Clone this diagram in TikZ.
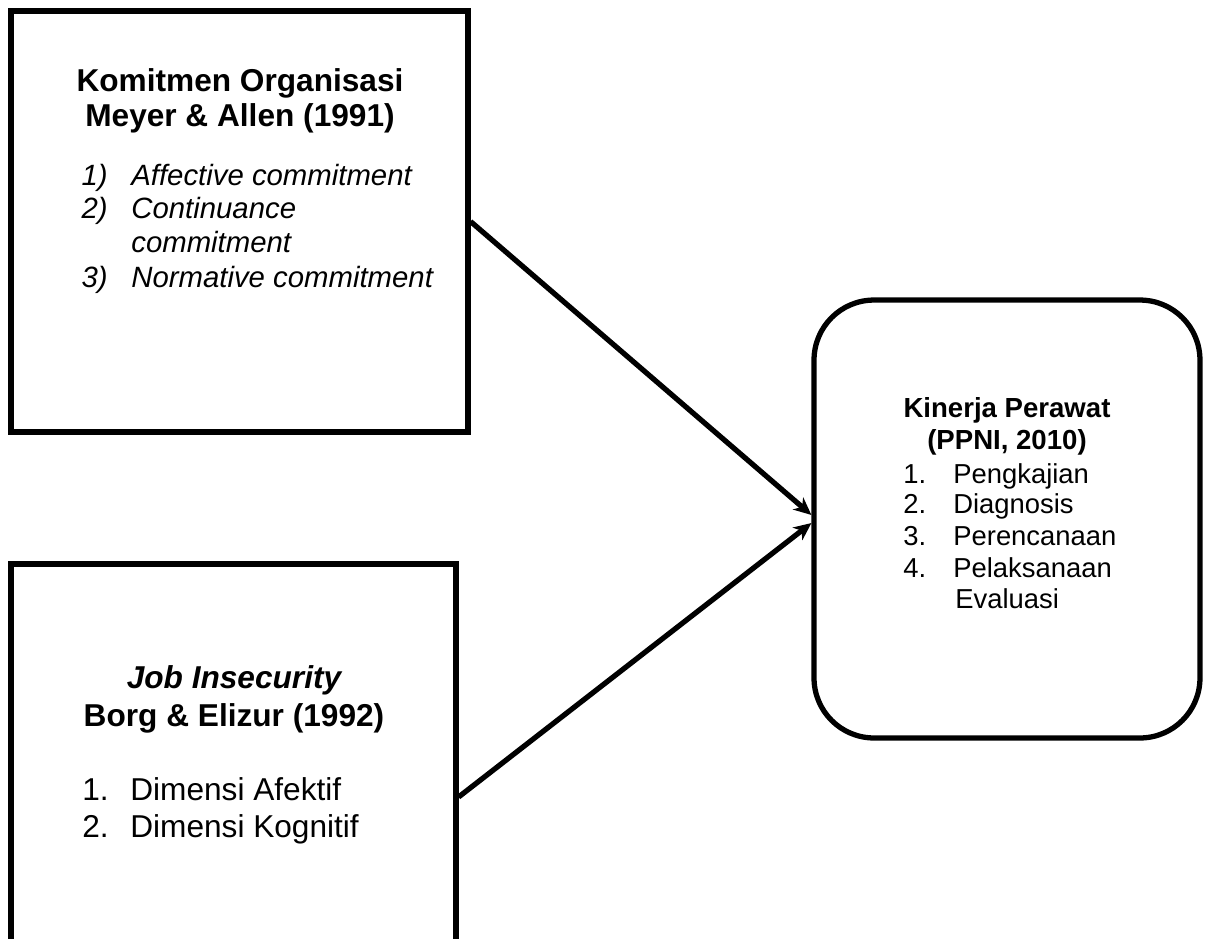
\documentclass[tikz,border=0pt]{standalone}
\usepackage{fontspec}
\setmainfont{Liberation Sans}
\usetikzlibrary{arrows.meta,calc}

\begin{document}
\begin{tikzpicture}[x=0.02cm,y=-0.02cm,
box/.style={draw,line width=3pt,inner sep=0pt},
txt/.style={inner sep=0pt,anchor=base},
num/.style={inner sep=0pt,anchor=base east},
item/.style={inner sep=0pt,anchor=base west},
arrow/.style={line width=3pt,-{Stealth[length=10pt,width=9pt,inset=3pt]}}]
\useasboundingbox (0,0) rectangle (1205,938);
\node (komitmen) at (239.5,221.5)[box,minimum width=9.14cm,minimum height=8.42cm] {};
\node (job) at (233.5,797)[box,minimum width=8.9cm,minimum height=9.32cm] {};
\node (kinerja) at (1007,519)[box,rounded corners=1.2cm,minimum width=7.72cm,minimum height=8.76cm] {};
\node (komitmentitle) at (240,91)[txt,font=\fontsize{18}{20}\selectfont\bfseries] {Komitmen Organisasi};
\node (komitmenref) at (240,126)[txt,font=\fontsize{18}{20}\selectfont\bfseries] {Meyer \& Allen (1991)};
\foreach \n/\y/\s in {1)/185/Affective commitment,2)/218/Continuance,/252/commitment,3)/287/Normative commitment}{
\node (kn\y) at (108,\y)[num,font=\fontsize{16.7}{19}\selectfont\itshape] {\n};
\node (ki\y) at (131,\y)[item,font=\fontsize{16.7}{19}\selectfont\itshape] {\s};
}
\node (jobtitle) at (234,688)[txt,font=\fontsize{18}{20}\selectfont\bfseries\itshape] {Job Insecurity};
\node (jobref) at (234,726)[txt,font=\fontsize{18}{20}\selectfont\bfseries] {Borg \& Elizur (1992)};
\foreach \n/\y/\s in {1./800/Dimensi Afektif,2./837/Dimensi Kognitif}{
\node (jn\y) at (82,\y)[item,font=\fontsize{18}{20}\selectfont] {\n};
\node (ji\y) at (130,\y)[item,font=\fontsize{18}{20}\selectfont] {\s};
}
\node (kinerjatitle) at (1007,417)[txt,font=\fontsize{15.7}{18}\selectfont\bfseries] {Kinerja Perawat};
\node (kinerjaref) at (1007,449)[txt,font=\fontsize{15.7}{18}\selectfont\bfseries] {(PPNI, 2010)};
\foreach \n/\y/\s in {1./483/Pengkajian,2./513/Diagnosis,3./545/Perencanaan,4./577/Pelaksanaan}{
\node (pn\y) at (903,\y)[item,font=\fontsize{15.6}{18}\selectfont] {\n};
\node (pi\y) at (953,\y)[item,font=\fontsize{15.6}{18}\selectfont] {\s};
}
\node (evaluasi) at (955,608)[item,font=\fontsize{15.6}{18}\selectfont] {Evaluasi};
\draw[arrow] (komitmen.east) -- ([yshift=2.3pt]kinerja.west);
\draw[arrow] (job.east) -- ([yshift=-2.3pt]kinerja.west);
\end{tikzpicture}
\end{document}
